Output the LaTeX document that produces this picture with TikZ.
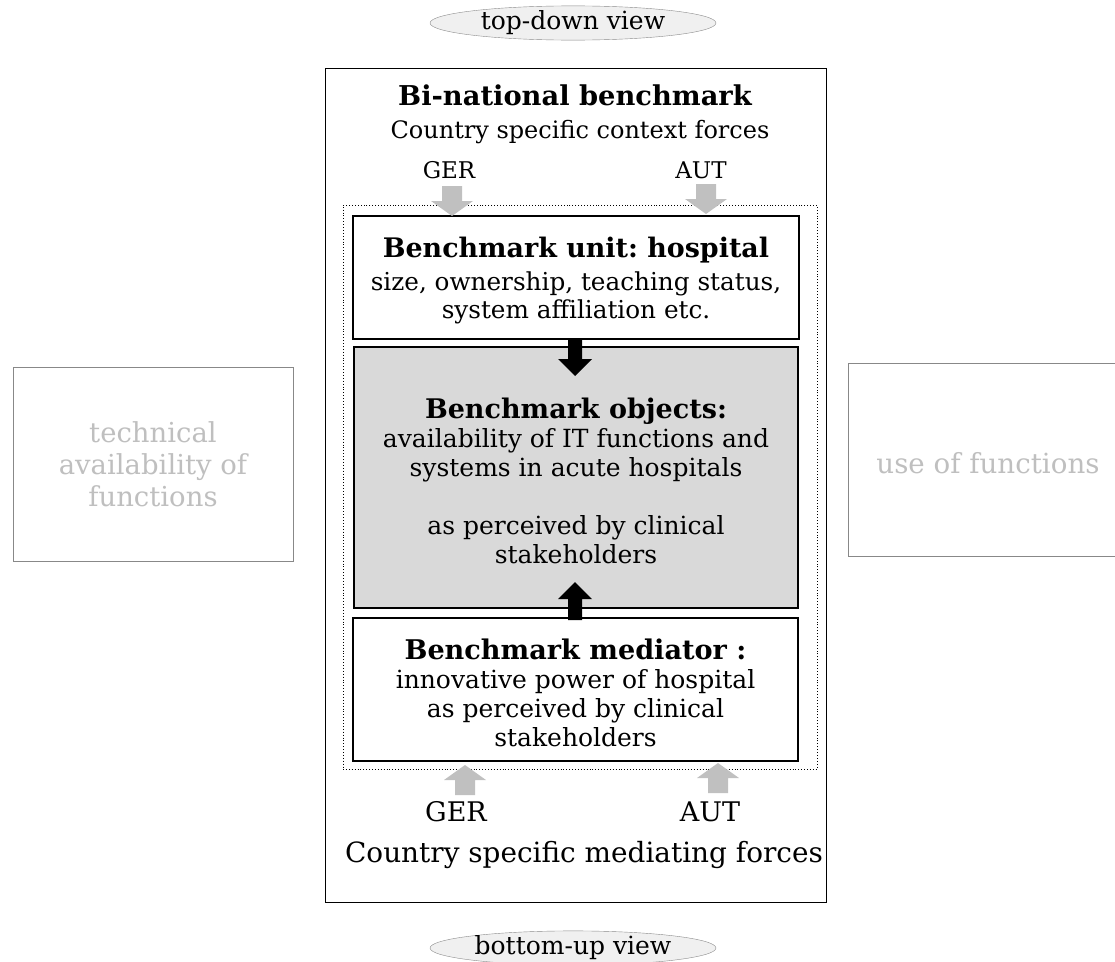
\documentclass[tikz,border=0pt]{standalone}
\usepackage{fontspec}
\setmainfont{DejaVu Serif}
\frenchspacing
\usetikzlibrary{shapes.geometric}
\definecolor{garrow}{HTML}{C0C0C0}
\definecolor{objfill}{HTML}{D9D9D9}
\definecolor{ghosttext}{HTML}{BFBFBF}
\definecolor{ghostline}{HTML}{888888}
\definecolor{ellfill}{HTML}{F0F0F0}
\definecolor{elldraw}{HTML}{8A8A8A}
\tikzset{
  view/.style={ellipse, draw=elldraw, fill=ellfill, minimum width=286, minimum height=24, inner sep=0, font=\fontsize{25}{26}\selectfont},
  mainbox/.style={draw=black, line width=1pt, inner sep=0},
  innerbox/.style={draw=black, line width=1.2pt, align=center, inner sep=0, font=\fontsize{25}{29}\selectfont},
  ghostbox/.style={draw=ghostline, line width=1pt, align=center, text=ghosttext, inner sep=0, font=\fontsize{27.5}{32}\selectfont},
  lbl/.style={inner sep=0, font=\fontsize{24}{26}\selectfont},
  grayarrow/.pic={\fill[garrow] (0,0) -- (-21,-15) -- (-10,-15) -- (-10,-30) -- (10,-30) -- (10,-15) -- (21,-15) -- cycle;},
  blackarrow/.pic={\fill[black] (0,0) -- (-17,-17) -- (-7,-17) -- (-7,-38) -- (7,-38) -- (7,-17) -- (17,-17) -- cycle;},
}
\begin{document}
\begin{tikzpicture}[x=1pt,y=-1pt]
\useasboundingbox (0,0) rectangle (1115,961);
% view ellipses
\node[view] (top) at (573,23) {top-down view};
\node[view] (bottom) at (573,948) {bottom-up view};
% outer frame
\node[mainbox, minimum width=501, minimum height=834] (outer) at (575.5,485) {};
\node[inner sep=0, font=\bfseries\fontsize{27.3}{30}\selectfont] (title) at (575,95) {Bi-national benchmark};
\node[lbl] (ctx) at (580,132) {Country specific context forces};
\node[lbl, font=\fontsize{23}{26}\selectfont] (gert) at (449,170) {GER};
\node[lbl, font=\fontsize{23}{26}\selectfont] (autt) at (701,170) {AUT};
% dotted frame
\node[draw=black, dotted, line width=0.9pt, minimum width=474, minimum height=564, inner sep=0] (dots) at (580,487) {};
% unit box
\node[innerbox, fill=white, minimum width=446, minimum height=123] (unit) at (576,277.5) {};
\node[align=center, inner sep=0, font=\fontsize{24.7}{28}\selectfont] (unittxt) at (576,281)
 {{\bfseries\fontsize{26.9}{29}\selectfont Benchmark unit: hospital}\\[5pt]
  size, ownership, teaching status,\\
  system affiliation etc.};
% objects box
\node[innerbox, fill=objfill, minimum width=444, minimum height=261] (obj) at (576,477.5) {};
\node[align=center, inner sep=0, font=\fontsize{25}{29}\selectfont] (objtxt) at (576,480.5)
 {{\bfseries\fontsize{27}{29}\selectfont Benchmark objects:}\\
  availability of IT functions and\\
  systems in acute hospitals\\
  \mbox{}\\
  as perceived by clinical\\
  stakeholders};
% mediator box
\node[innerbox, fill=white, minimum width=445, minimum height=143] (med) at (575.5,689.5) {};
\node[align=center, inner sep=0, font=\fontsize{25}{29}\selectfont] (medtxt) at (575.5,692.5)
 {{\bfseries\fontsize{27.1}{29}\selectfont Benchmark mediator :}\\
  innovative power of hospital\\
  as perceived by clinical\\
  stakeholders};
% gray arrows top
\path (452,216) pic {grayarrow};
\path (706,214) pic {grayarrow};
% black arrows
\path (575,376) pic {blackarrow};
\path (575,582) pic[rotate=180] {blackarrow};
% gray arrows bottom
\path (465,765) pic[rotate=180] {grayarrow};
\path (718,763) pic[rotate=180] {grayarrow};
\node[lbl, font=\fontsize{27}{28}\selectfont] (gerb) at (456,812) {GER};
\node[lbl, font=\fontsize{27}{28}\selectfont] (autb) at (710,812) {AUT};
\node[lbl, font=\fontsize{27.9}{30}\selectfont] (medf) at (584,855) {Country specific mediating forces};
% ghost boxes
\node[ghostbox, minimum width=280, minimum height=194] (tech) at (153,464)
 {technical\\availability of\\functions};
\node[ghostbox, minimum width=280, minimum height=193] (use) at (988,459.5) {};
\node[inner sep=0, text=ghosttext, font=\fontsize{27.7}{30}\selectfont] (usetxt) at (988,463) {use of functions};
\end{tikzpicture}
\end{document}
